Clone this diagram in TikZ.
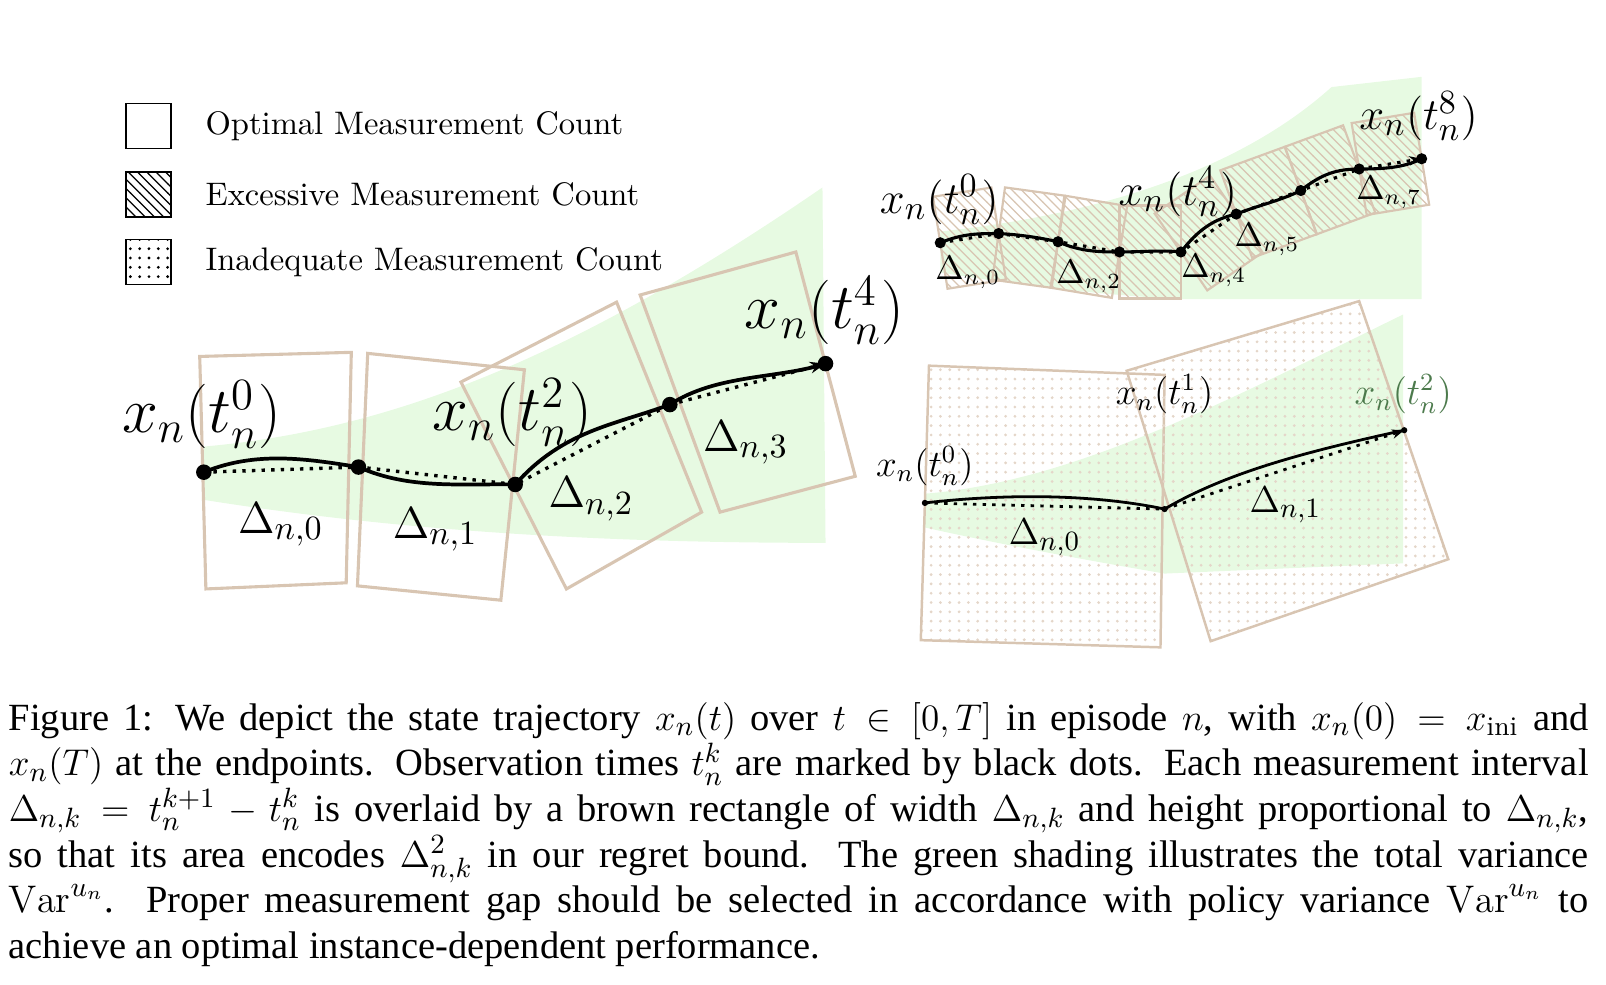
\documentclass[tikz,border=0pt]{standalone}
\usepackage{fontspec}
\newfontfamily\capfont{Liberation Serif}
\usetikzlibrary{patterns,calc,arrows.meta}
\definecolor{tanc}{RGB}{216,197,178}
\definecolor{grn}{RGB}{231,250,226}
\begin{document}
\begin{tikzpicture}[x=0.33pt,y=-0.33pt,
  rect/.style={draw=tanc,line width=1pt},
  dotA/.style={circle,fill=black,inner sep=0pt,minimum size=5pt},
  dotB/.style={circle,fill=black,inner sep=0pt,minimum size=3.6pt},
  dotC/.style={circle,fill=black,inner sep=0pt,minimum size=2pt},
  sol/.style={line width=1.2pt},
  dtt/.style={line width=1.1pt,dotted},
  big/.style={font=\fontsize{20}{22}\selectfont},
  mid/.style={font=\fontsize{15}{17}\selectfont},
  sml/.style={font=\fontsize{12}{14}\selectfont},
  dA/.style={font=\fontsize{15}{17}\selectfont},
  dB/.style={font=\fontsize{10.5}{12}\selectfont},
  dC/.style={font=\fontsize{12.5}{14}\selectfont},
  leg/.style={draw,line width=0.5pt,minimum size=14.5pt,inner sep=0pt},
  legt/.style={anchor=west,font=\fontsize{10.5}{12}\selectfont}]
% ---------- legend
\node[leg] (l1) at (145,123) {};
\node[leg,pattern=north west lines] (l2) at (145,190) {};
\node[leg,pattern=dots] (l3) at (145,256) {};
\node[legt] (t1) at (190,123) {Optimal\ Measurement\ Count};
\node[legt] (t2) at (190,190) {Excessive\ Measurement\ Count};
\node[legt] (t3) at (190,256) {Inadequate\ Measurement\ Count};
% ---------- left panel
\fill[grn] (199,436) .. controls (380,420) and (560,350) .. (803,183) -- (806,530) .. controls (600,530) and (400,520) .. (199,488) -- cycle;
\draw[rect] (195,348) -- (343,344) -- (338,569) -- (201,575) -- cycle;
\draw[rect] (359,345) -- (512,361) -- (489,586) -- (349,572) -- cycle;
\draw[rect] (450,373) -- (602,295) -- (685,500) -- (553,575) -- cycle;
\draw[rect] (625,288) -- (777,246) -- (835,465) -- (703,500) -- cycle;
\node[dotA] (a0) at (199,461) {};
\node[dotA] (a1) at (350,456) {};
\node[dotA] (a2) at (503,473) {};
\node[dotA] (a3) at (654,395) {};
\node[dotA] (a4) at (806,355) {};
\draw[sol] (a0.center) .. controls (250,440) and (300,448) .. (a1.center);
\draw[sol] (a1.center) .. controls (400,478) and (450,472) .. (a2.center);
\draw[sol] (a2.center) .. controls (550,420) and (600,415) .. (a3.center);
\draw[sol] (a3.center) .. controls (700,365) and (760,370) .. (a4.center);
\draw[dtt] (a0.center) -- (a1.center) -- (a2.center) -- (a3.center);
\draw[dtt,-{Stealth[length=5pt]}] (a3.center) -- (a4.center);
\node[big] (xa0) at (197,405) {$x_n(t_n^0)$};
\node[big] (xa2) at (500,403) {$x_n(t_n^2)$};
\node[big] (xa4) at (805,303) {$x_n(t_n^4)$};
\node[dA] (da0) at (274,512) {$\Delta_{n,0}$};
\node[dA] (da1) at (425,517) {$\Delta_{n,1}$};
\node[dA] (da2) at (577,487) {$\Delta_{n,2}$};
\node[dA] (da3) at (728,432) {$\Delta_{n,3}$};
% ---------- top right panel
\fill[grn] (918,226) .. controls (1050,212) and (1200,175) .. (1300,85) -- (1388,75) -- (1388,292) -- (1150,292) .. controls (1050,286) and (980,276) .. (918,266) -- cycle;
\foreach \p/\q [count=\i] in {918/237,975/228,1033/236,1093/246,1153/246,1207/209,1270/186,1327/165,1388/155}
  \coordinate (b\i) at (\p,\q);
\foreach \i [evaluate=\i as \j using int(\i+1)] in {1,...,8}
  \draw[rect,line width=0.7pt,pattern=north west lines,pattern color=tanc]
    ($(b\i)!15pt!90:(b\j)$) -- ($(b\j)!15pt!-90:(b\i)$) -- ($(b\j)!15pt!90:(b\i)$) -- ($(b\i)!15pt!-90:(b\j)$) -- cycle;
\foreach \i in {1,...,9} \node[dotB] (c\i) at (b\i) {};
\draw[sol,line width=1pt] (c1.center) .. controls (940,228) and (955,228) .. (c2.center)
  .. controls (995,229) and (1015,232) .. (c3.center)
  .. controls (1055,246) and (1075,246) .. (c4.center)
  .. controls (1115,246) and (1135,244) .. (c5.center)
  .. controls (1170,224) and (1185,214) .. (c6.center)
  .. controls (1230,200) and (1250,196) .. (c7.center)
  .. controls (1290,170) and (1305,165) .. (c8.center)
  .. controls (1350,165) and (1370,164) .. (c9.center);
\draw[dtt,line width=1pt] (c1.center) -- (c2.center) -- (c3.center) -- (c4.center) -- (c5.center) -- (c6.center) -- (c7.center) -- (c8.center);
\draw[dtt,line width=1pt,-{Stealth[length=4pt]}] (c8.center) -- (c9.center);
\node[mid] (xb0) at (917,195) {$x_n(t_n^0)$};
\node[mid] (xb4) at (1150,187) {$x_n(t_n^4)$};
\node[mid] (xb8) at (1385,113) {$x_n(t_n^8)$};
\node[dB] (db0) at (945,266) {$\Delta_{n,0}$};
\node[dB] (db2) at (1063,270) {$\Delta_{n,2}$};
\node[dB] (db4) at (1185,264) {$\Delta_{n,4}$};
\node[dB] (db5) at (1237,234) {$\Delta_{n,5}$};
\node[dB] (db7) at (1356,188) {$\Delta_{n,7}$};
% ---------- bottom right panel
\fill[grn] (903,482) .. controls (1050,470) and (1200,390) .. (1370,307) -- (1370,550) -- (1137,560) .. controls (1050,545) and (970,530) .. (903,515) -- cycle;
\draw[rect,line width=0.8pt,pattern=dots,pattern color=tanc!70] (907,357) -- (1137,366) -- (1133,632) -- (899,625) -- cycle;
\draw[rect,line width=0.8pt,pattern=dots,pattern color=tanc!70] (1100,362) -- (1327,294) -- (1414,546) -- (1182,626) -- cycle;
\node[dotC] (e0) at (903,491) {};
\node[dotC] (e1) at (1137,497) {};
\node[dotC] (e2) at (1371,420) {};
\draw[sol,line width=0.9pt] (e0.center) .. controls (1000,480) and (1080,485) .. (e1.center);
\draw[sol,line width=0.9pt] (e1.center) .. controls (1200,460) and (1280,440) .. (e2.center);
\draw[dtt,line width=0.9pt] (e0.center) -- (e1.center);
\draw[dtt,line width=0.9pt,-{Stealth[length=4pt]}] (e1.center) -- (e2.center);
\node[sml] (xc0) at (903,455) {$x_n(t_n^0)$};
\node[sml] (xc1) at (1137,385) {$x_n(t_n^1)$};
\node[sml,text=black!55!green!40!gray] (xc2) at (1370,385) {$x_n(t_n^2)$};
\node[dC] (dc0) at (1020,525) {$\Delta_{n,0}$};
\node[dC] (dc1) at (1255,493) {$\Delta_{n,1}$};
% ---------- caption
\node[anchor=north west,inner sep=0pt,text width=509pt,align=justify,
  font=\capfont\fontsize{12.4}{14.7}\selectfont] (cap) at (8,685)
{Figure 1: We depict the state trajectory $x_n(t)$ over $t\in[0,T]$ in episode $n$, with $x_n(0)=x_{\mathrm{ini}}$ and\linebreak $x_n(T)$ at the endpoints. Observation times $t_n^k$ are marked by black dots. Each measurement interval\linebreak $\Delta_{n,k}=t_n^{k+1}-t_n^k$ is overlaid by a brown rectangle of width $\Delta_{n,k}$ and height proportional to $\Delta_{n,k}$,\linebreak so that its area encodes $\Delta_{n,k}^2$ in our regret bound. The green shading illustrates the total variance\linebreak $\mathrm{Var}^{u_n}$. Proper measurement gap should be selected in accordance with policy variance $\mathrm{Var}^{u_n}$ to\linebreak achieve an optimal instance-dependent performance.};
\pgfresetboundingbox
\useasboundingbox (0,0) rectangle (1568,961);
\end{tikzpicture}
\end{document}
